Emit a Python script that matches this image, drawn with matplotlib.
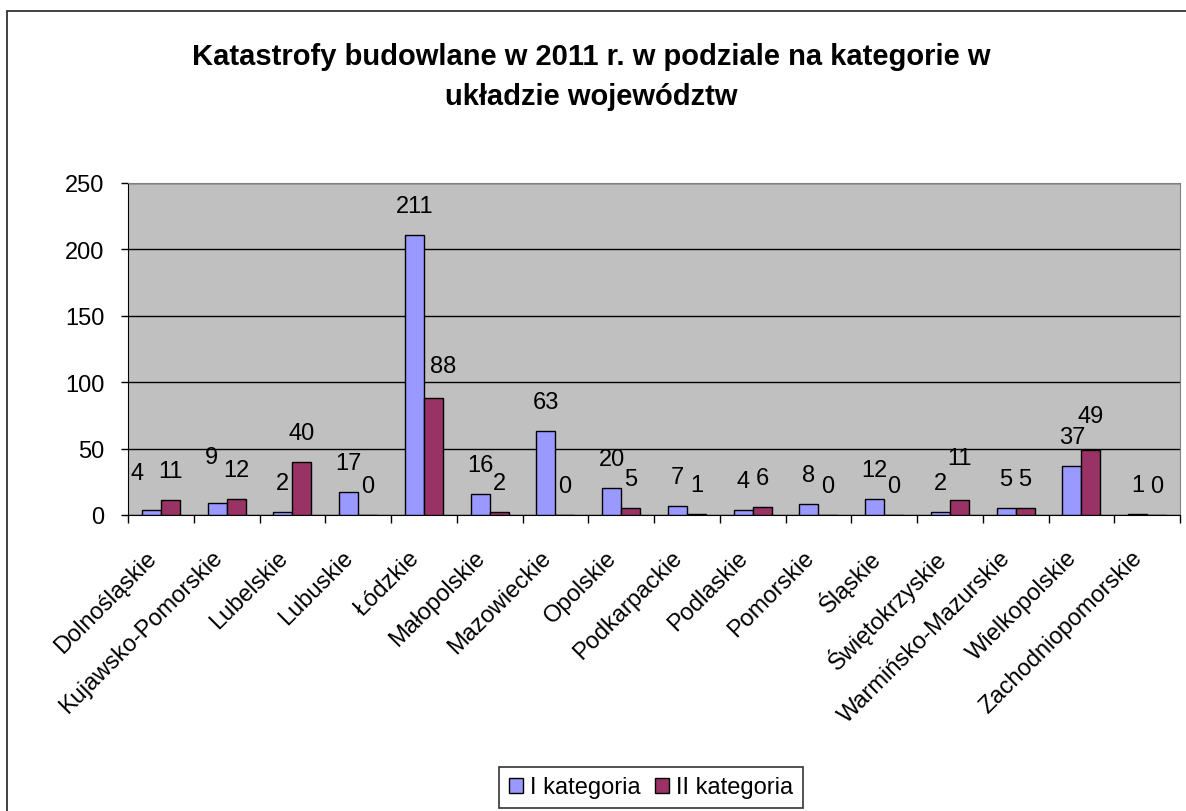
import matplotlib.pyplot as plt
from matplotlib.patches import Patch, Rectangle
from matplotlib.transforms import ScaledTranslation

plt.rcParams['font.family'] = ['Liberation Sans', 'DejaVu Sans']

# Voivodeships and counts of construction disasters per category
regions = ['Dolnośląskie', 'Kujawsko-Pomorskie', 'Lubelskie', 'Lubuskie',
           'Łódzkie', 'Małopolskie', 'Mazowieckie', 'Opolskie',
           'Podkarpackie', 'Podlaskie', 'Pomorskie', 'Śląskie',
           'Świętokrzyskie', 'Warmińsko-Mazurskie', 'Wielkopolskie',
           'Zachodniopomorskie']
cat1 = [4, 9, 2, 17, 211, 16, 63, 20, 7, 4, 8, 12, 2, 5, 37, 1]
cat2 = [11, 12, 40, 0, 88, 2, 0, 5, 1, 6, 0, 0, 11, 5, 49, 0]
series_names = ['I kategoria', 'II kategoria']
yticks = [0, 50, 100, 150, 200, 250]

c1 = '#9999FF'
c2 = '#993366'
fs = 17

W, H = 1186, 812
fig = plt.figure(figsize=(W / 100, H / 100), dpi=100)
ax = fig.add_axes([128 / W, 1 - 516 / H, 1052 / W, 332 / H])
ax.set_facecolor('#C0C0C0')

n = len(regions)
centers = [i + 0.5 for i in range(n)]
w = 0.29
b1 = ax.bar([c - w / 2 for c in centers], cat1, w, color=c1,
            edgecolor='black', linewidth=1, zorder=3)
b2 = ax.bar([c + w / 2 for c in centers], cat2, w, color=c2,
            edgecolor='black', linewidth=1, zorder=3)

# small shifts (pixels) for labels that would crowd each other
nudge = {(0, 0): (-14, 8), (0, 1): (-6, 17), (1, 4): (10, 3),
         (1, 12): (0, 13), (1, 14): (0, 5)}
for s, bars in enumerate([b1, b2]):
    for i, r in enumerate(bars):
        dx, dy = nudge.get((s, i), (0, 0))
        ax.annotate(str(int(r.get_height())),
                    (r.get_x() + r.get_width() / 2, r.get_height()),
                    xytext=(dx, 29 + dy), textcoords='offset pixels',
                    ha='center', va='center', fontsize=fs, zorder=4)

ax.set_xlim(0, n)
ax.set_ylim(0, 250)
ax.set_yticks(yticks)
ax.yaxis.grid(True, color='black', linewidth=1)
ax.set_axisbelow(True)
ax.tick_params(axis='y', direction='out', length=5, width=1, pad=12,
               labelsize=fs)

ax.set_xticks(range(n + 1), minor=True)
ax.set_xticks(centers)
ax.set_xticklabels(regions, rotation=45, ha='right', va='center',
                   rotation_mode='anchor', fontsize=fs)
ax.tick_params(axis='x', which='major', length=0, pad=28)
ax.tick_params(axis='x', which='minor', direction='out', length=6, width=1)
shift = ScaledTranslation(-8 / 100, 0, fig.dpi_scale_trans)
for lab in ax.get_xticklabels():
    lab.set_transform(lab.get_transform() + shift)

ax.spines['left'].set_color('black')
ax.spines['bottom'].set_color('black')
ax.spines['top'].set_color('#808080')
ax.spines['right'].set_color('#808080')

fig.text(591 / W, 1 - 57 / H,
         'Katastrofy budowlane w 2011 r. w podziale na kategorie w',
         ha='center', va='center', fontsize=21, fontweight='bold')
fig.text(591 / W, 1 - 97 / H, 'układzie województw',
         ha='center', va='center', fontsize=21, fontweight='bold')

handles = [Patch(facecolor=c1, edgecolor='black'),
           Patch(facecolor=c2, edgecolor='black')]
leg = fig.legend(handles, series_names, loc='upper center',
                 bbox_to_anchor=(651 / W, 1 - 768 / H), ncol=2,
                 fontsize=fs, handlelength=0.6, handleheight=0.6,
                 handletextpad=0.3, columnspacing=0.6, fancybox=False,
                 framealpha=1, edgecolor='#333333', borderpad=0.4,
                 borderaxespad=0)
leg.get_frame().set_linewidth(1.2)

# outer chart border
fig.add_artist(Rectangle((7 / W, -0.05), 1.2, 1 - 12 / H + 0.05,
                         transform=fig.transFigure, fill=False,
                         edgecolor='#333333', linewidth=1.3))

fig.savefig('out.png', dpi=100)
